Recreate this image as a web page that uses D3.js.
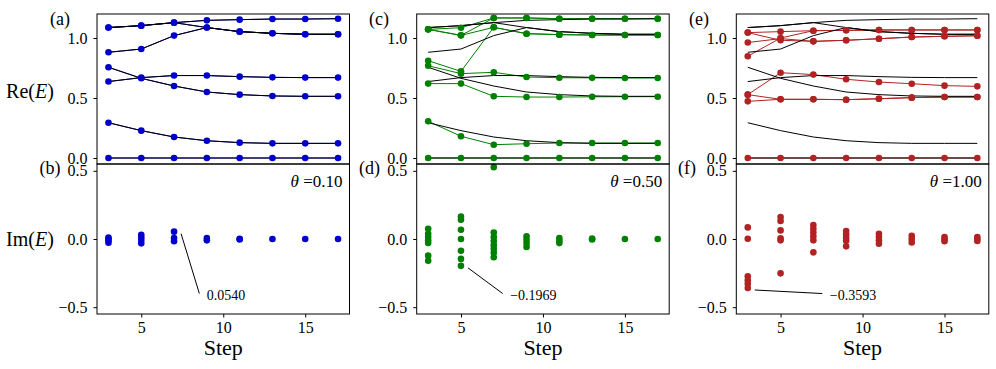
<!DOCTYPE html>
<html>
<head>
<meta charset="utf-8">
<script src="https://cdn.jsdelivr.net/npm/d3@7"></script>
<style>
  body { margin: 0; background: #fff; }
  text { font-family: "Liberation Serif", "DejaVu Serif", serif; fill: #000; }
</style>
</head>
<body>
<div id="chart"></div>
<script>
// ---- data ----
const steps = [3, 5, 7, 9, 11, 13, 15, 17];
const thetas = ["0.10", "0.50", "1.00"];
const panelTags = [["(a)", "(b)"], ["(c)", "(d)"], ["(e)", "(f)"]];
const reTicks = [0, 0.5, 1.0];
const imTicks = [-0.5, 0, 0.5];
const stepTicks = [5, 10, 15];

// black reference curves, Re(E) against step
const refRe = [
  [1.087, 1.103, 1.128, 1.147, 1.153, 1.158, 1.158, 1.161],
  [1.087, 1.103, 1.128, 1.087, 1.053, 1.039, 1.031, 1.031],
  [0.881, 0.908, 1.020, 1.087, 1.053, 1.039, 1.031, 1.031],
  [0.756, 0.664, 0.600, 0.550, 0.528, 0.517, 0.514, 0.514],
  [0.637, 0.670, 0.687, 0.687, 0.678, 0.672, 0.670, 0.670],
  [0.294, 0.228, 0.175, 0.144, 0.128, 0.122, 0.122, 0.122],
  [0, 0, 0, 0, 0, 0, 0, 0]
];

// theta = 0.10 sits on the reference curves
const reTheta010 = refRe;

const reTheta050 = [
  [1.072, 1.086, 1.167, 1.167, 1.161, 1.161, 1.161, 1.161],
  [1.072, 1.022, 1.167, 1.167, 1.161, 1.161, 1.161, 1.161],
  [1.072, 1.022, 1.089, 1.036, 1.028, 1.025, 1.025, 1.025],
  [0.811, 0.722, 1.089, 1.036, 1.028, 1.025, 1.025, 1.025],
  [0.769, 0.703, 0.714, 0.675, 0.669, 0.668, 0.667, 0.667],
  [0.620, 0.620, 0.514, 0.508, 0.508, 0.510, 0.511, 0.511],
  [0.306, 0.181, 0.111, 0.119, 0.125, 0.125, 0.125, 0.125],
  [0, 0, 0, 0, 0, 0, 0, 0]
];

const reTheta100 = [
  [1.045, 1.053, 1.061, 1.064, 1.067, 1.067, 1.067, 1.067],
  [1.045, 0.981, 0.972, 0.981, 0.994, 1.008, 1.014, 1.019],
  [0.962, 0.995, 0.972, 0.981, 0.994, 1.008, 1.014, 1.019],
  [0.848, 1.000, 1.061, 1.064, 1.067, 1.067, 1.067, 1.067],
  [0.528, 0.711, 0.695, 0.656, 0.633, 0.619, 0.603, 0.597],
  [0.528, 0.489, 0.489, 0.486, 0.494, 0.503, 0.508, 0.508],
  [0.472, 0.489, 0.489, 0.486, 0.494, 0.503, 0.508, 0.508],
  [0, 0, 0, 0, 0, 0, 0, 0]
];

// Im(E), one list per step
const imTheta010 = [
  [0.010, 0, -0.010, -0.027],
  [0.031, 0.012, -0.007, -0.032],
  [0.054, 0.007, -0.017],
  [0.007, -0.010],
  [0.002, -0.004],
  [0], [0], [0]
];

const imTheta050 = [
  [0.075, 0.039, 0.015, -0.010, -0.029, -0.122, -0.159],
  [0.165, 0.141, 0.068, 0, -0.086, -0.146, -0.1969],
  [0.527, 0.048, 0.015, -0.015, -0.045, -0.072, -0.100, -0.134],
  [0.019, -0.005, -0.029, -0.058],
  [0.007, -0.013, -0.030],
  [0.004, -0.004],
  [0], [0]
];

const imTheta100 = [
  [0.085, 0.002, -0.274, -0.303, -0.329, -0.3593],
  [0.161, 0.132, 0.063, 0.005, -0.010, -0.252],
  [0.102, 0.075, 0.048, 0.019, -0.010, -0.098],
  [0.059, 0.034, 0.010, -0.012, -0.054],
  [0.039, 0.015, -0.010, -0.034],
  [0.024, 0, -0.025],
  [0.015, -0.002, -0.017],
  [0.015, 0, -0.015]
];

// annotated extreme imaginary parts
const annotLabels = ["0.0540", "\u22120.1969", "\u22120.3593"];
const annotSteps = [7, 5, 3];
const annotValues = [0.0540, -0.1969, -0.3593];

// ---- layout ----
let svgWidth = 996;
let svgHeight = 369;
let panelLefts = [97, 416.7, 736.3];
let panelWidth = 252.5;
let topY = 14, midY = 164, bottomY = 314;
let colors = ["#0000cd", "#008000", "#b22222"];

let reSets = [reTheta010, reTheta050, reTheta100];
let imSets = [imTheta010, imTheta050, imTheta100];
let annotTextStep = [9, 8, 8];

let svg = d3.select("#chart")
  .append("svg")
  .attr("width", svgWidth)
  .attr("height", svgHeight);

let fmt = d3.format(".1f");

reSets.forEach(function(reData, i) {
  let left = panelLefts[i];
  let color = colors[i];

  let x = d3.scaleLinear().domain([2.3, 17.7]).range([left, left + panelWidth]);
  let yRe = d3.scaleLinear().domain([-0.05, 1.2]).range([midY, topY]);
  let yIm = d3.scaleLinear().domain([-0.55, 0.55]).range([bottomY, midY]);

  let reLine = d3.line()
    .x((d, j) => x(steps[j]))
    .y(d => yRe(d));

  // coloured lines first, black reference on top, then points
  svg.append("g").selectAll("path")
    .data(reData)
    .enter()
    .append("path")
    .attr("d", reLine)
    .attr("fill", "none")
    .attr("stroke", color)
    .attr("stroke-width", 1);

  svg.append("g").selectAll("path")
    .data(refRe)
    .enter()
    .append("path")
    .attr("d", reLine)
    .attr("fill", "none")
    .attr("stroke", "#000")
    .attr("stroke-width", 1);

  let rePoints = [];
  reData.forEach(series => series.forEach((v, j) => rePoints.push([steps[j], v])));
  svg.append("g").selectAll("circle")
    .data(rePoints)
    .enter()
    .append("circle")
    .attr("cx", d => x(d[0]))
    .attr("cy", d => yRe(d[1]))
    .attr("r", 3.3)
    .attr("fill", color);

  let imPoints = [];
  imSets[i].forEach((list, j) => list.forEach(v => imPoints.push([steps[j], v])));
  svg.append("g").selectAll("circle")
    .data(imPoints)
    .enter()
    .append("circle")
    .attr("cx", d => x(d[0]))
    .attr("cy", d => yIm(d[1]))
    .attr("r", 3.3)
    .attr("fill", color);

  // annotation
  let px = x(annotSteps[i]), py = yIm(annotValues[i]);
  let tx = x(annotTextStep[i]), ty = yIm(-0.444);
  svg.append("line")
    .attr("x1", px + 7).attr("y1", py + 2)
    .attr("x2", tx - 7.5).attr("y2", ty - 6)
    .attr("stroke", "#000")
    .attr("stroke-width", 1);
  svg.append("text")
    .attr("x", tx)
    .attr("y", ty)
    .style("font-size", "14px")
    .text(annotLabels[i]);

  // axes
  let reAxis = svg.append("g")
    .attr("transform", `translate(${left}, 0)`)
    .call(d3.axisLeft(yRe).tickValues(reTicks).tickFormat(fmt).tickSize(3.5).tickPadding(6));
  let imAxis = svg.append("g")
    .attr("transform", `translate(${left}, 0)`)
    .call(d3.axisLeft(yIm).tickValues(imTicks).tickFormat(fmt).tickSize(3.5).tickPadding(6));
  let stepAxis = svg.append("g")
    .attr("transform", `translate(0, ${bottomY})`)
    .call(d3.axisBottom(x).tickValues(stepTicks).tickSize(3.5).tickPadding(4.5));

  [reAxis, imAxis, stepAxis].forEach(function(ax) {
    ax.select(".domain").remove();
    ax.attr("font-family", null).attr("font-size", null);
    ax.selectAll("text").style("font-size", "16px");
  });

  // frames
  [[topY, midY], [midY, bottomY]].forEach(function(r) {
    svg.append("rect")
      .attr("x", left)
      .attr("y", r[0])
      .attr("width", panelWidth)
      .attr("height", r[1] - r[0])
      .attr("fill", "none")
      .attr("stroke", "#000")
      .attr("stroke-width", 1);
  });

  // theta label
  let th = svg.append("text")
    .attr("x", left + panelWidth - 7)
    .attr("y", 187)
    .attr("text-anchor", "end")
    .style("font-size", "17px");
  th.append("tspan").style("font-style", "italic").text("\u03b8");
  th.append("tspan").text(" =" + thetas[i]);

  // step label
  svg.append("text")
    .attr("x", left + panelWidth / 2)
    .attr("y", 355)
    .attr("text-anchor", "middle")
    .style("font-size", "22px")
    .text("Step");
});

// panel tags
let tagX = [[50, 39.5], [369, 359], [689, 678]];
panelTags.forEach(function(pair, i) {
  svg.append("text").attr("x", tagX[i][0]).attr("y", 25).style("font-size", "18px").text(pair[0]);
  svg.append("text").attr("x", tagX[i][1]).attr("y", 174).style("font-size", "18px").text(pair[1]);
});

// y labels
[["Re", 98], ["Im", 246]].forEach(function(lab) {
  let t = svg.append("text")
    .attr("x", 30)
    .attr("y", lab[1])
    .attr("text-anchor", "middle")
    .style("font-size", "20px");
  t.append("tspan").text(lab[0] + "(");
  t.append("tspan").style("font-style", "italic").text("E");
  t.append("tspan").text(")");
});
</script>
</body>
</html>
